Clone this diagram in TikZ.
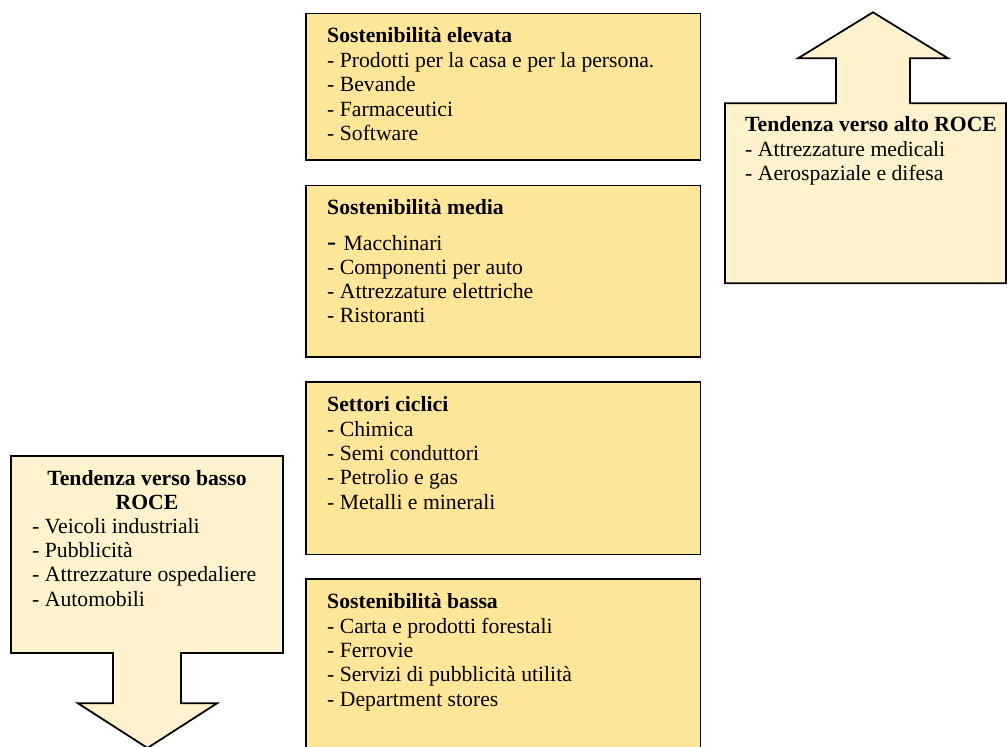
\documentclass[tikz,border=0pt]{standalone}
\usepackage{fontspec}
\setmainfont{Liberation Serif}
\definecolor{boxfill}{HTML}{FFE699}
\definecolor{arrowfill}{HTML}{FFF2CC}
\tikzset{
  panel/.style={draw=black, line width=1.8pt, fill=boxfill},
  bigarrow/.style={draw=black, line width=1.8pt, fill=arrowfill, line join=miter},
  txt/.style={anchor=base west, inner sep=0pt, font=\fontsize{21.7}{24.5}\selectfont},
  ttl/.style={txt, font=\fontsize{21.7}{24.5}\selectfont\bfseries},
}
\begin{document}
\begin{tikzpicture}[x=1pt, y=-1pt]
\useasboundingbox (0,0) rectangle (1007,747);
% middle boxes
\draw[panel] (306,13.5) rectangle (700.5,160);
\draw[panel] (306,185.5) rectangle (700.5,357);
\draw[panel] (306,382) rectangle (700.5,554.5);
\draw[panel] (306,579) rectangle (700.5,770);
% up arrow (right)
\draw[bigarrow] (725,103.3) -- (836,103.3) -- (836,58.3) -- (798,58.3) -- (873,12.3)
  -- (948,58.3) -- (910,58.3) -- (910,103.3) -- (1006,103.3) -- (1006,283.3) -- (725,283.3) -- cycle;
% down arrow (left)
\draw[bigarrow] (11,456) -- (283,456) -- (283,653) -- (181,653) -- (181,703.3) -- (217,703.3)
  -- (147.5,748) -- (78,703.3) -- (113,703.3) -- (113,653) -- (11,653) -- cycle;
% box 1
\node[ttl] (t1) at (327,42) {Sostenibilità elevata};
\foreach \s [count=\i] in {- Prodotti per la casa e per la persona., - Bevande, - Farmaceutici, - Software}
  \node[txt] (a\i) at (327,{42+25.5+(\i-1)*24.4}) {\s};
% box 2
\node[ttl] (t2) at (327,214.3) {Sostenibilità media};
\node[txt] (b1) at (327,250) {{\fontsize{27}{24.5}\selectfont -}\hspace{7.5pt}Macchinari};
\foreach \s [count=\i] in {- Componenti per auto, - Attrezzature elettriche, - Ristoranti}
  \node[txt] (b\i x) at (327,{274.3+(\i-1)*24.2}) {\s};
% box 3
\node[ttl] (t3) at (327,411.5) {Settori ciclici};
\foreach \s [count=\i] in {- Chimica, - Semi conduttori, - Petrolio e gas, - Metalli e minerali}
  \node[txt] (c\i) at (327,{436+(\i-1)*24.4}) {\s};
% box 4
\node[ttl] (t4) at (327,608) {Sostenibilità bassa};
\foreach \s [count=\i] in {- Carta e prodotti forestali, - Ferrovie, - Servizi di pubblicità utilità, - Department stores}
  \node[txt] (d\i) at (327,{633+(\i-1)*24.4}) {\s};
% right arrow text
\node[ttl] (t5) at (745,131.7) {Tendenza verso alto ROCE};
\foreach \s [count=\i] in {- Attrezzature medicali, - Aerospaziale e difesa}
  \node[txt] (e\i) at (745,{156.7+(\i-1)*24}) {\s};
% left arrow text
\node[ttl, anchor=base] (t6) at (147,485) {Tendenza verso basso};
\node[ttl, anchor=base] (t6b) at (147,509) {ROCE};
\foreach \s [count=\i] in {- Veicoli industriali, - Pubblicità, - Attrezzature ospedaliere, - Automobili}
  \node[txt] (f\i) at (32,{533+(\i-1)*24.4}) {\s};
\end{tikzpicture}
\end{document}
